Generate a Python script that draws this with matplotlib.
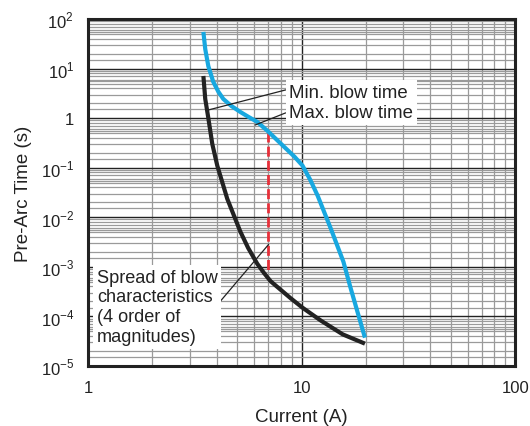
import matplotlib
matplotlib.use("Agg")
import matplotlib.pyplot as plt
from matplotlib.ticker import LogLocator, FixedLocator, FixedFormatter, NullFormatter

plt.rcParams['font.family'] = ['Liberation Sans', 'DejaVu Sans']
plt.rcParams['mathtext.fontset'] = 'custom'
plt.rcParams['mathtext.rm'] = 'Liberation Sans'

# max blow time (blue)
max_current = [3.47, 3.54, 3.66, 3.86, 4.08, 4.3, 4.69, 5.17, 5.64, 6.2, 7.0, 8.2, 9.27,
               10.1, 11.0, 11.9, 13.7, 15.7, 17.0, 19.8]
max_time = [55, 24.8, 11.2, 5.4, 3.4, 2.44, 1.76, 1.33, 1.06, 0.84, 0.53, 0.275, 0.166,
            0.11, 0.056, 0.027, 0.0059, 0.00126, 3.6e-4, 3.7e-5]

# min blow time (black)
min_current = [3.47, 3.54, 3.66, 3.82, 4.03, 4.49, 5.17, 5.62, 6.2, 6.65, 7.16, 8.0, 8.9,
               10.1, 12.3, 15.6, 19.8]
min_time = [7.1, 2.44, 1.0, 0.30, 0.11, 0.0234, 0.0051, 2.4e-3, 1.15e-3, 7.6e-4, 5.1e-4, 3.4e-4,
            2.3e-4, 1.49e-4, 8.2e-5, 4.3e-5, 2.8e-5]

spread_current = 7.0
spread_top = 0.52
spread_bottom = 7.9e-4

y_ticks = [1e-5, 1e-4, 1e-3, 1e-2, 1e-1, 1, 10, 100]
y_labels = ['10$^{-5}$', '10$^{-4}$', '10$^{-3}$', '10$^{-2}$', '10$^{-1}$', '1', '10$^{1}$', '10$^{2}$']
x_ticks = [1, 10, 100]
x_labels = ['1', '10', '100']

fig = plt.figure(figsize=(5.3, 4.27), dpi=100)
ax = fig.add_axes([0.166, 0.141, 0.806, 0.812])
ax.set_xscale('log')
ax.set_yscale('log')
ax.set_xlim(1, 100)
ax.set_ylim(1e-5, 100)

ax.xaxis.set_major_locator(FixedLocator(x_ticks))
ax.xaxis.set_major_formatter(FixedFormatter(x_labels))
ax.yaxis.set_major_locator(FixedLocator(y_ticks))
ax.yaxis.set_major_formatter(FixedFormatter(y_labels))
ax.xaxis.set_minor_locator(LogLocator(base=10, subs=range(2, 10)))
ax.yaxis.set_minor_locator(LogLocator(base=10, subs=[1.5, 2, 3, 4, 5, 5.5, 6, 7, 8, 9], numticks=20))
ax.xaxis.set_minor_formatter(NullFormatter())
ax.yaxis.set_minor_formatter(NullFormatter())

ax.grid(True, which='minor', color='#9a9a9a', lw=0.9)
ax.grid(True, which='major', color='#222222', lw=1.0)
ax.tick_params(which='both', length=0, labelsize=12, colors='#222222')
ax.tick_params(axis='x', pad=10.5)
ax.tick_params(axis='y', pad=10)
ax.set_axisbelow(True)
for s in ax.spines.values():
    s.set_linewidth(2.2)
    s.set_color('#222222')

ax.plot(max_current, max_time, color='#18a8e0', lw=3, solid_capstyle='butt',
        solid_joinstyle='round', zorder=4)
ax.plot(min_current, min_time, color='#222222', lw=3, solid_capstyle='butt',
        solid_joinstyle='round', zorder=4)
ax.plot([spread_current, spread_current], [spread_top, spread_bottom], color='#e8303a',
        lw=2, dashes=(3.6, 1.5), zorder=3)

# leader lines
ax.plot([3.66, 8.4], [1.46, 3.7], color='#222222', lw=0.9, zorder=5)
ax.plot([6.08, 8.4], [0.73, 1.27], color='#222222', lw=0.9, zorder=5)
ax.plot([4.03, 7.0], [1.7e-4, 2.8e-3], color='#222222', lw=0.9, zorder=5)

ax.text(8.75, 2.07, 'Min. blow time\nMax. blow time', fontsize=13.4, color='#222222',
        va='center', ha='left', linespacing=1.24, zorder=6,
        bbox=dict(facecolor='white', edgecolor='none', pad=2.5))
ax.text(1.10, 1.55e-4, 'Spread of blow\ncharacteristics\n(4 order of\nmagnitudes)', fontsize=13.1,
        color='#222222', va='center', ha='left', linespacing=1.22, zorder=6,
        bbox=dict(facecolor='white', edgecolor='none', pad=2.5))

ax.set_xlabel('Current (A)', fontsize=13.5, color='#222222', labelpad=9)
ax.set_ylabel('Pre-Arc Time (s)', fontsize=13.5, color='#222222', labelpad=6)

fig.savefig('out.png', dpi=100)
